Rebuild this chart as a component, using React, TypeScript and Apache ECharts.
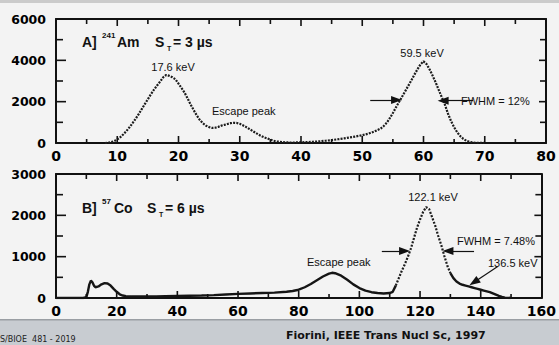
import React, { useEffect, useRef } from "react";
import * as echarts from "echarts";

// Panel A: 241Am spectrum (energy keV, counts)
const energyA = [8, 8.5, 9, 9.5, 10, 10.5, 11, 11.5, 12, 12.5, 13, 13.5, 14, 14.5, 15, 15.5, 16, 16.5, 17, 17.5, 18, 18.5, 19, 19.5, 20, 20.5, 21, 21.5, 22, 22.5, 23, 23.5, 24, 24.5, 25, 25.5, 26, 26.5, 27, 27.5, 28, 28.5, 29, 29.5, 30, 30.5, 31, 31.5, 32, 32.5, 33, 33.5, 34, 34.5, 35, 35.5, 36, 37, 38, 39, 40, 41, 42, 43, 44, 45, 46, 47, 48, 49, 50, 51, 52, 53, 53.5, 54, 54.5, 55, 55.5, 56, 56.5, 57, 57.5, 58, 58.5, 59, 59.5, 60, 60.5, 61, 61.5, 62, 62.5, 63, 63.5, 64, 64.5, 65, 65.5, 66, 66.5, 67, 67.5, 68, 68.5, 69, 70];
const countsA = [0, 10, 40, 90, 170, 280, 420, 580, 760, 960, 1170, 1400, 1640, 1880, 2120, 2360, 2580, 2780, 2970, 3180, 3290, 3250, 3180, 3080, 2870, 2660, 2430, 2150, 1850, 1580, 1330, 1110, 950, 840, 770, 730, 740, 780, 840, 880, 920, 960, 980, 970, 930, 860, 780, 690, 600, 510, 420, 340, 270, 220, 160, 110, 75, 40, 25, 25, 30, 45, 60, 80, 110, 140, 180, 220, 270, 320, 380, 450, 560, 700, 820, 980, 1200, 1450, 1720, 1980, 2240, 2500, 2760, 3020, 3300, 3560, 3800, 3950, 3820, 3560, 3250, 2920, 2560, 2200, 1850, 1420, 1060, 760, 520, 330, 200, 110, 60, 30, 12, 5, 0];

// Panel B: 57Co spectrum
const energyB = [0, 9, 10, 10.5, 11, 11.5, 12, 12.5, 13, 14, 15, 16, 17, 18, 19, 20, 21, 22, 23, 25, 27, 30, 33, 36, 40, 44, 48, 52, 56, 60, 64, 68, 72, 76, 78, 80, 82, 84, 86, 88, 90, 91, 92, 94, 96, 98, 100, 102, 104, 106, 108, 110, 111, 112, 113, 114, 115, 116, 117, 118, 119, 120, 121, 122, 123, 124, 125, 126, 127, 128, 129, 130, 131, 132, 133, 134, 135, 136, 137, 138, 139, 140, 141, 142, 143, 144, 145, 146, 147, 148, 150];
const countsB = [0, 0, 20, 150, 330, 420, 380, 300, 260, 280, 330, 360, 350, 300, 220, 150, 90, 60, 45, 40, 35, 40, 35, 45, 50, 55, 60, 70, 85, 100, 110, 120, 130, 150, 170, 200, 260, 340, 430, 520, 590, 610, 600, 540, 440, 330, 240, 180, 140, 120, 110, 120, 150, 300, 480, 660, 820, 1000, 1200, 1450, 1700, 1900, 2080, 2200, 2150, 1950, 1750, 1500, 1280, 1020, 780, 600, 480, 400, 350, 320, 300, 280, 260, 240, 220, 200, 180, 160, 140, 110, 80, 50, 25, 10, 0];
const dottedRangeB = [112, 130];

// Axis ranges, label steps and minor tick steps
const xRangeA = [0, 80];
const xStepA = 10;
const xMinorA = 5;
const yRangeA = [0, 6000];
const yStepA = 2000;
const yMinorA = 1000;
const xRangeB = [0, 160];
const xStepB = 20;
const xMinorB = 10;
const yRangeB = [0, 3000];
const yStepB = 1000;
const yMinorB = 500;

// FWHM arrows (data coordinates)
const arrowsA = [
  [[51.3, 2080], [55.6, 2080]],
  [[68.1, 2050], [63.2, 2050]],
];
const arrowsB = [
  [[107.4, 1140], [114.9, 1140]],
  [[137.8, 1140], [129.2, 1140]],
  [[145.6, 760], [137.8, 380]],
];

const INK = "#111";

function makeX(grid: number, range: number[], step: number, pos: string, labels: boolean) {
  return {
    type: "value",
    gridIndex: grid,
    min: range[0],
    max: range[1],
    interval: step,
    position: pos,
    axisLine: { show: true, onZero: false, lineStyle: { color: INK, width: 2 } },
    axisTick: { show: false },
    splitLine: { show: false },
    axisLabel: {
      show: labels,
      margin: 6,
      color: "#000",
      fontFamily: "DejaVu Sans",
      fontWeight: "bold",
      fontSize: 14,
      formatter: (v: number) => String(v),
    },
  };
}
function makeY(grid: number, range: number[], step: number, pos: string, labels: boolean) {
  return {
    type: "value",
    gridIndex: grid,
    min: range[0],
    max: range[1],
    interval: step,
    position: pos,
    axisLine: { show: true, onZero: false, lineStyle: { color: INK, width: 2 } },
    axisTick: { show: false },
    splitLine: { show: false },
    axisLabel: {
      show: labels,
      margin: 10,
      color: "#000",
      fontFamily: "DejaVu Sans",
      fontWeight: "bold",
      fontSize: 12.5,
      formatter: (v: number) => String(v),
    },
  };
}

function arrowMark(list: number[][][]) {
  return {
    silent: true,
    symbol: ["none", "triangle"],
    symbolSize: [8, 11],
    label: { show: false },
    lineStyle: { type: "solid", color: INK, width: 1.2 },
    emphasis: { disabled: true },
    data: list.map((a) => [{ coord: a[0] }, { coord: a[1] }]),
  };
}

const txt = (x: number, y: number, text: string, size: number, bold = false, extra: any = {}) => ({
  type: "text",
  x,
  y,
  silent: true,
  z: 10,
  style: {
    text,
    fill: "#111",
    font: `${bold ? "bold " : ""}${size}px "Liberation Sans", Arial, sans-serif`,
    textVerticalAlign: "middle",
    ...extra,
  },
});

// Inward ticks on all four sides, positioned through the chart's own axes
function tickRects(chart: any, grid: number, xr: number[], xMajor: number, xMinor: number, yr: number[], yMajor: number, yMinor: number) {
  const out: any[] = [];
  const w = 1.6;
  const rect = (x: number, y: number, width: number, height: number) => ({
    type: "rect",
    silent: true,
    z: 20,
    shape: { x, y, width, height },
    style: { fill: INK },
  });
  for (let v = xr[0] + xMinor; v < xr[1]; v += xMinor) {
    const major = v % xMajor === 0;
    const b = chart.convertToPixel({ gridIndex: grid }, [v, yr[0]]);
    const t = chart.convertToPixel({ gridIndex: grid }, [v, yr[1]]);
    const lb = major ? 7 : 4;
    const lt = major ? 7 : 5;
    out.push(rect(b[0] - w / 2, b[1] - lb, w, lb));
    out.push(rect(t[0] - w / 2, t[1], w, lt));
  }
  for (let v = yr[0] + yMinor; v < yr[1]; v += yMinor) {
    const major = v % yMajor === 0;
    const l = chart.convertToPixel({ gridIndex: grid }, [xr[0], v]);
    const r = chart.convertToPixel({ gridIndex: grid }, [xr[1], v]);
    const ll = major ? 10 : 7;
    const lr = major ? 7 : 6;
    out.push(rect(l[0], l[1] - w / 2, ll, w));
    out.push(rect(r[0] - lr, r[1] - w / 2, lr, w));
  }
  return out;
}

export default function App() {
  const ref = useRef<HTMLDivElement>(null);
  useEffect(() => {
    document.body.style.margin = "0";
    const chart = echarts.init(ref.current!, null, { renderer: "svg" });
    const dataA = energyA.map((e, i) => [e, countsA[i]]);
    const allB = energyB.map((e, i) => [e, countsB[i]]);
    const solidB1 = allB.filter((p) => p[0] <= dottedRangeB[0]);
    const solidB2 = allB.filter((p) => p[0] >= dottedRangeB[1]);
    const dotB = allB.filter((p) => p[0] >= dottedRangeB[0] && p[0] <= dottedRangeB[1]);
    const lineBase = { type: "line", showSymbol: false, silent: true, smooth: false };
    chart.setOption({
      animation: false,
      backgroundColor: "#f3f3f3",
      grid: [
        { left: 56, right: 13, top: 19, height: 124 },
        { left: 56, right: 13, top: 174, height: 124 },
      ],
      xAxis: [
        makeX(0, xRangeA, xStepA, "bottom", true),
        makeX(0, xRangeA, xStepA, "top", false),
        makeX(1, xRangeB, xStepB, "bottom", true),
        makeX(1, xRangeB, xStepB, "top", false),
      ],
      yAxis: [
        makeY(0, yRangeA, yStepA, "left", true),
        makeY(0, yRangeA, yStepA, "right", false),
        makeY(1, yRangeB, yStepB, "left", true),
        makeY(1, yRangeB, yStepB, "right", false),
      ],
      series: [
        {
          ...lineBase,
          xAxisIndex: 0,
          yAxisIndex: 0,
          data: dataA,
          lineStyle: { color: "#1c1c1c", width: 2.2, type: [2, 1.2] },
          markLine: arrowMark(arrowsA),
        },
        {
          ...lineBase,
          xAxisIndex: 2,
          yAxisIndex: 2,
          data: solidB1,
          lineStyle: { color: "#151515", width: 2.4 },
          markLine: arrowMark(arrowsB),
        },
        {
          ...lineBase,
          xAxisIndex: 2,
          yAxisIndex: 2,
          data: dotB,
          lineStyle: { color: "#1c1c1c", width: 2.2, type: [2, 1.5] },
        },
        {
          ...lineBase,
          xAxisIndex: 2,
          yAxisIndex: 2,
          data: solidB2,
          lineStyle: { color: "#151515", width: 2.4 },
        },
      ],
    });

    const ticks = [
      ...tickRects(chart, 0, xRangeA, xStepA, xMinorA, yRangeA, yStepA, yMinorA),
      ...tickRects(chart, 1, xRangeB, xStepB, xMinorB, yRangeB, yStepB, yMinorB),
    ];

    chart.setOption({
      graphic: [
        { type: "rect", shape: { x: 0, y: 0, width: 559, height: 3 }, style: { fill: "#cbcbcb" }, silent: true },
        { type: "rect", shape: { x: 0, y: 320, width: 559, height: 25 }, style: { fill: "#c8ccd1" }, silent: true },
        { type: "rect", shape: { x: 0, y: 319, width: 559, height: 1.5 }, style: { fill: "#9a9ea3" }, silent: true },
        ...ticks,
        // Panel A title
        txt(82, 42, "A]", 14, true),
        txt(102, 35, "241", 8, true),
        txt(117, 42, "Am", 14, true),
        txt(155, 42, "S", 14, true),
        txt(167, 48, "T", 7, true),
        txt(173, 42, "= 3 µs", 14, true),
        // Panel A annotations
        txt(173, 67, "17.6 keV", 11, false, { textAlign: "center" }),
        txt(212, 111, "Escape peak", 11),
        txt(422, 53, "59.5 keV", 11, false, { textAlign: "center" }),
        txt(461, 101, "FWHM = 12%", 11),
        // Panel B title
        txt(82, 208, "B]", 14, true),
        txt(102, 201, "57", 8, true),
        txt(114, 208, "Co", 14, true),
        txt(147, 208, "S", 14, true),
        txt(159, 214, "T", 7, true),
        txt(165, 208, "= 6 µs", 14, true),
        // Panel B annotations
        txt(307, 262, "Escape peak", 11),
        txt(433, 197, "122.1 keV", 11, false, { textAlign: "center" }),
        txt(457, 241, "FWHM = 7.48%", 11),
        txt(488, 263, "136.5 keV", 11),
        // Footer
        {
          type: "text",
          x: 0,
          y: 339,
          silent: true,
          style: { text: "S/BIOE  481 - 2019", fill: "#222", font: '8px "DejaVu Sans", sans-serif', textVerticalAlign: "middle" },
        },
        {
          type: "text",
          x: 286,
          y: 335,
          silent: true,
          style: { text: "Fiorini, IEEE Trans Nucl Sc, 1997", fill: "#111", font: 'bold 11px "DejaVu Sans", sans-serif', textVerticalAlign: "middle" },
        },
      ],
    });
    return () => chart.dispose();
  }, []);
  return <div ref={ref} style={{ width: 559, height: 345 }} />;
}
